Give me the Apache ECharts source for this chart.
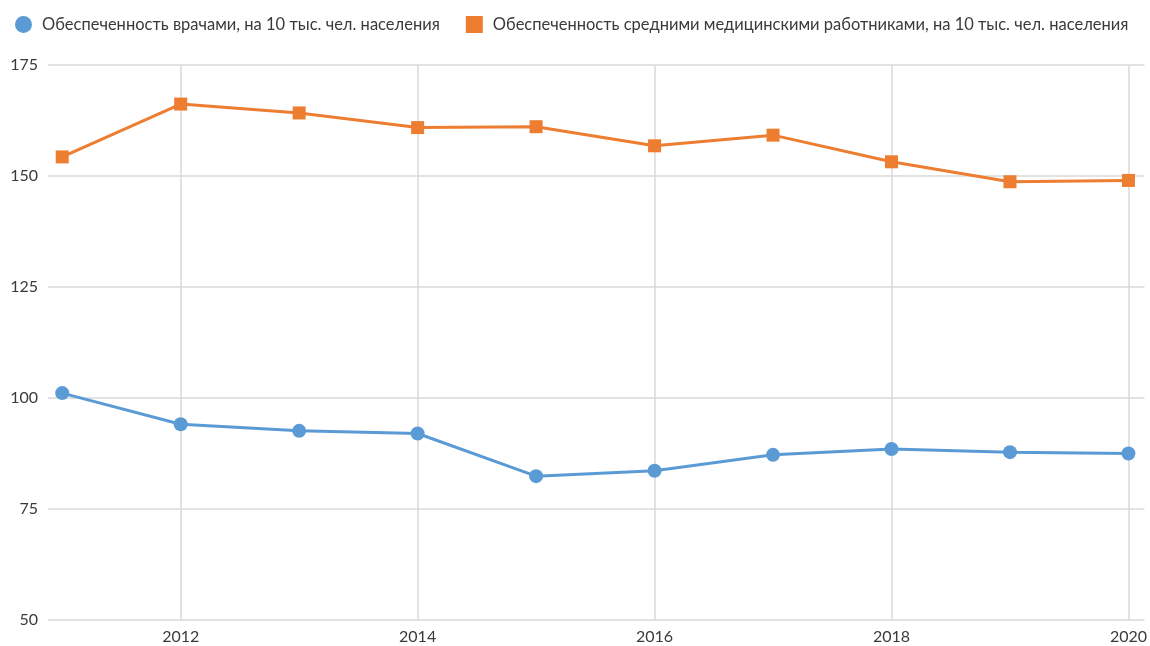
<!DOCTYPE html>
<html>
<head>
<meta charset="utf-8">
<script src="https://cdn.jsdelivr.net/npm/echarts@6/dist/echarts.min.js"></script>
<style>
  html, body { margin: 0; padding: 0; background: #fff; }
  #chart { width: 1150px; height: 646px; }
</style>
</head>
<body>
<div id="chart"></div>
<script>
// Years and values (per 10 thousand population)
const years = [2011, 2012, 2013, 2014, 2015, 2016, 2017, 2018, 2019, 2020];
const doctors = [101.1, 94.1, 92.6, 92.0, 82.4, 83.6, 87.2, 88.5, 87.8, 87.5];
const nurses = [154.3, 166.2, 164.2, 160.9, 161.1, 156.8, 159.2, 153.2, 148.7, 149.0];
const xTicks = [2012, 2014, 2016, 2018, 2020];
const seriesNames = [
  'Обеспеченность врачами, на 10 тыс. чел. населения',
  'Обеспеченность средними медицинскими работниками, на 10 тыс. чел. населения'
];

const FONT = 'Lato';
const TEXT = '#3a3a3a';
const GRID = '#d9d9d9';

const chart = echarts.init(document.getElementById('chart'), null, { renderer: 'canvas' });

chart.setOption({
  animation: false,
  backgroundColor: '#fff',
  textStyle: { fontFamily: FONT },
  legend: {
    top: 11,
    left: 10,
    itemGap: 26,
    itemWidth: 17,
    itemHeight: 17,
    textStyle: { fontFamily: FONT, fontSize: 16.5, color: TEXT, padding: [0, 0, 0, 5] },
    data: [
      { name: seriesNames[0], icon: 'circle' },
      { name: seriesNames[1], icon: 'rect' }
    ]
  },
  grid: { left: 48, right: 5, top: 65, bottom: 26, containLabel: false },
  xAxis: {
    type: 'value',
    min: 2010.88,
    max: 2020.135,
    axisLine: { show: false },
    axisTick: { show: false },
    splitLine: { show: false },
    axisLabel: {
      customValues: xTicks,
      color: TEXT,
      fontSize: 16,
      fontFamily: FONT,
      margin: 9,
      formatter: v => String(v)
    }
  },
  yAxis: {
    type: 'value',
    min: 50,
    max: 175,
    interval: 25,
    axisLine: { show: false },
    axisTick: { show: false },
    splitLine: { lineStyle: { color: GRID, width: 1.5 } },
    axisLabel: { color: TEXT, fontSize: 16, fontFamily: FONT, margin: 10 }
  },
  series: [
    {
      name: seriesNames[0],
      type: 'line',
      data: years.map((y, i) => [y, doctors[i]]),
      symbol: 'circle',
      symbolSize: 14,
      lineStyle: { color: '#5B9BD5', width: 3 },
      itemStyle: { color: '#5B9BD5' },
      z: 3,
      markLine: {
        silent: true,
        z: 1,
        symbol: 'none',
        label: { show: false },
        lineStyle: { color: GRID, width: 1.5, type: 'solid' },
        data: xTicks.map(x => ({ xAxis: x }))
      }
    },
    {
      name: seriesNames[1],
      type: 'line',
      data: years.map((y, i) => [y, nurses[i]]),
      symbol: 'rect',
      symbolSize: 13,
      lineStyle: { color: '#ED7D31', width: 3 },
      itemStyle: { color: '#ED7D31' },
      z: 3
    }
  ]
});
</script>
</body>
</html>
